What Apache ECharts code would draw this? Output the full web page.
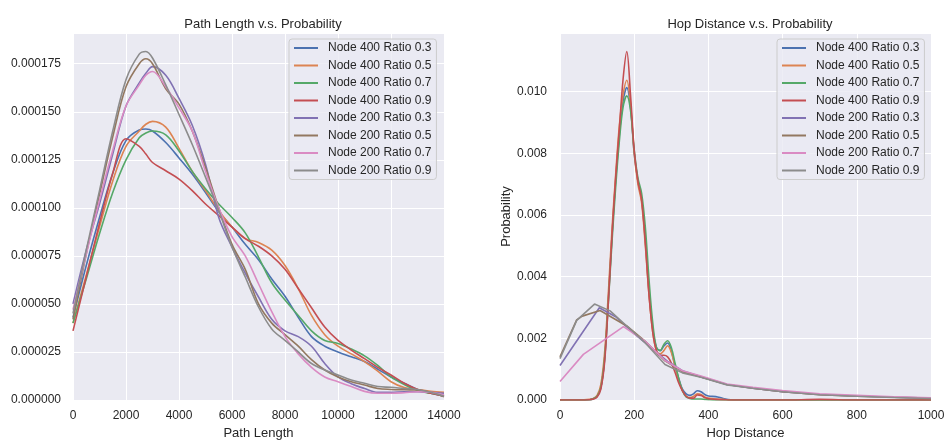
<!DOCTYPE html>
<html><head><meta charset="utf-8">
<script src="https://cdn.jsdelivr.net/npm/echarts@6/dist/echarts.min.js"></script>
<style>html,body{margin:0;padding:0;background:#fff}#c{width:946px;height:440px}</style>
</head><body><div id="c"></div>
<script>
const seriesNames = ['Node 400 Ratio 0.3','Node 400 Ratio 0.5','Node 400 Ratio 0.7','Node 400 Ratio 0.9','Node 200 Ratio 0.3','Node 200 Ratio 0.5','Node 200 Ratio 0.7','Node 200 Ratio 0.9'];
const colors = ['#4C72B0','#DD8452','#55A868','#C44E52','#8172B3','#937860','#DA8BC3','#8C8C8C'];

// Left: path length (x) vs density, values in units of 1e-6
const pathX = [0,500,1000,1500,2000,2500,2750,3000,3500,4000,4500,5000,5500,6000,6500,7000,7500,8000,8500,9000,9500,10000,10500,11000,11500,12000,12500,13000,13500,14000];
const pathN400R03 = [43,70,95,118,135,140.5,141,140,134,126,117.6,108,98,90,81,73,63,54,43,33,28,25,22.5,20,16,12,8.7,5.5,3.5,2];
const pathN400R05 = [40,65,90,114,132,140,143.5,145,142,131,119,109,98.6,90,84,82,78,70,58,44,34,28,24,20,15,9.5,6.5,5.5,4.5,4];
const pathN400R07 = [40,63,86.5,108,125,136.5,139,140,138,129.6,119,110,102,95,87,74.4,61,52,44,36,31,29.4,26.5,23,18,12,8,5,3.5,2.5];
const pathN400R09 = [36,64,92,118,136,132,128,123.6,119.3,115,109,102,96,90,84,80,75,68,58,48,38,31,26,21.5,17,13,8.7,5.5,3.5,2];
const pathN200R03 = [50,78,102,128,153,165,170,173.5,169,157,143,122.7,95,79.6,66,53.6,42,36,33,28,19,12,8.5,6,4,4,4.3,4.3,4,3.5];
const pathN200R05 = [42,76,107,137,163,175,177.6,175,162,154,140,121,100,81,68,50,40,34,28,21,15.6,12,9.5,7.8,6,5.5,5.3,5.2,4,1.7];
const pathN200R07 = [47,76,104,130,153,164,169,171,163,152,140,119,100,85,75,60.5,46,33,24,17,12,9.5,7,4.5,3.5,3.5,3.8,4.3,4,2.6];
const pathN200R09 = [45,78,109,140,166.7,180,181.4,178,164,148.6,133,116,98.6,79.6,64,48.4,37,31,25,19,15.6,13,10.4,8.7,7,6.6,6,5.5,4,2];
const pathScale = 1e-6;

// Right: hop distance vs density, values in units of 1e-3
const hopX400 = [0,50,80,90,100,110,120,130,140,150,160,170,180,190,200,210,220,230,240,250,260,270,280,290,300,310,320,330,340,350,360,370,380,390,400,420,440,460,500,600,700,800,900,1000];
const hopN400R03 = [0,0,0.01,0.04,0.12,0.4,1.3,3.2,5.3,7.1,8.6,9.7,10.13,9.5,8.0,7.1,6.5,5.2,3.5,2.3,1.7,1.6,1.75,1.85,1.6,1.1,0.7,0.35,0.2,0.15,0.2,0.3,0.27,0.18,0.13,0.11,0.05,0.01,0,0,0,0,0,0];
const hopN400R05 = [0,0,0.02,0.05,0.15,0.5,1.5,3.4,5.5,7.3,8.9,9.9,10.37,9.6,8.0,7.0,6.4,5.0,3.4,2.2,1.6,1.5,1.6,1.76,1.55,1.1,0.65,0.3,0.12,0.08,0.12,0.2,0.18,0.1,0.06,0.03,0.02,0,0,0,0,0,0,0];
const hopN400R07 = [0,0,0.01,0.04,0.12,0.4,1.3,3.1,5.1,6.9,8.4,9.5,9.86,9.4,8.1,7.2,6.7,5.6,3.9,2.5,1.7,1.6,1.8,1.92,1.7,1.2,0.7,0.3,0.1,0.05,0.03,0.03,0.03,0.02,0.01,0,0,0,0,0,0,0,0,0];
const hopN400R09 = [0,0,0.01,0.03,0.1,0.35,1.2,3.1,5.3,7.2,8.8,10.4,11.3,9.9,8.1,7.1,6.5,5.1,3.4,2.2,1.6,1.45,1.45,1.4,1.2,0.9,0.55,0.3,0.12,0.06,0.06,0.16,0.15,0.08,0.04,0.02,0.01,0,0,0,0.02,0,0,0];
const hopXN200R03 = [0,106,150,200,250,290,330,380,450,520,600,700,800,900,1000];
const hopN200R03 = [1.12,2.99,2.7,2.15,1.65,1.25,0.95,0.75,0.5,0.38,0.27,0.18,0.13,0.09,0.06];
const hopXN200R05 = [0,45,60,108,180,230,283,330,380,450,520,600,700,800,900,1000];
const hopN200R05 = [1.4,2.6,2.72,2.9,2.4,1.9,1.27,0.92,0.75,0.5,0.38,0.27,0.17,0.12,0.09,0.06];
const hopXN200R07 = [0,63,171,230,283,330,380,450,520,600,700,800,900,1000];
const hopN200R07 = [0.6,1.48,2.38,1.9,1.28,0.95,0.78,0.52,0.41,0.31,0.2,0.15,0.1,0.07];
const hopXN200R09 = [0,45,93,135,180,230,283,330,380,450,520,600,700,800,900,1000];
const hopN200R09 = [1.34,2.58,3.11,2.89,2.4,1.85,1.15,0.88,0.74,0.49,0.38,0.27,0.17,0.12,0.08,0.05];
const hopScale = 1e-3;

const leftTicksInterval = 0.000025, leftMax = 0.000191;
const rightTicksInterval = 0.002, rightMax = 0.0119;

const pathSets = [pathN400R03,pathN400R05,pathN400R07,pathN400R09,pathN200R03,pathN200R05,pathN200R07,pathN200R09];
const hopSets = [[hopX400,hopN400R03],[hopX400,hopN400R05],[hopX400,hopN400R07],[hopX400,hopN400R09],[hopXN200R03,hopN200R03],[hopXN200R05,hopN200R05],[hopXN200R07,hopN200R07],[hopXN200R09,hopN200R09]];

const FONT = '"Liberation Sans", Arial, sans-serif';
const TXT = '#262626';

const series = [];
pathSets.forEach((ys, i) => {
  series.push({
    name: seriesNames[i], type: 'line', xAxisIndex: 0, yAxisIndex: 0,
    data: pathX.map((x, k) => [x, ys[k] * pathScale]),
    symbol: 'none', smooth: 0.35, color: colors[i],
    lineStyle: { width: 1.6, color: colors[i] }, z: 2 + i
  });
});
hopSets.forEach((pair, i) => {
  const xs = pair[0], ys = pair[1];
  series.push({
    name: seriesNames[i], type: 'line', xAxisIndex: 1, yAxisIndex: 1,
    data: xs.map((x, k) => [x, ys[k] * hopScale]),
    symbol: 'none', smooth: i < 4 ? 0.35 : false, color: colors[i],
    lineStyle: { width: 1.6, color: colors[i] }, z: 2 + i
  });
});

function legendAt(left) {
  return {
    orient: 'vertical', left: left, top: 39,
    data: seriesNames.map((n, i) => ({ name: n, icon: 'rect', itemStyle: { color: colors[i] } })),
    itemWidth: 24, itemHeight: 2, itemGap: 5.5,
    padding: [3, 5, 3, 5],
    backgroundColor: 'rgba(234,234,242,0.8)', borderColor: '#cccccc', borderWidth: 1, borderRadius: 3,
    textStyle: { fontFamily: FONT, fontSize: 12, color: TXT, padding: [0, 0, 0, 5] },
    selectedMode: false
  };
}

const splitLine = { show: true, lineStyle: { color: '#ffffff', width: 1 } };
const plainNum = v => String(v);

const option = {
  animation: false,
  backgroundColor: '#ffffff',
  title: [
    { text: 'Path Length v.s. Probability', left: 258, top: 13, textAlign: 'center',
      textStyle: { fontFamily: FONT, fontSize: 13, fontWeight: 'normal', color: TXT } },
    { text: 'Hop Distance v.s. Probability', left: 745, top: 13, textAlign: 'center',
      textStyle: { fontFamily: FONT, fontSize: 13, fontWeight: 'normal', color: TXT } }
  ],
  legend: [legendAt(289), legendAt(777)],
  grid: [
    { left: 73, right: 502, top: 33, bottom: 40, show: true, backgroundColor: '#EAEAF2', borderWidth: 0, containLabel: false, outerBoundsMode: 'none' },
    { left: 560, right: 15, top: 33, bottom: 40, show: true, backgroundColor: '#EAEAF2', borderWidth: 0, containLabel: false, outerBoundsMode: 'none' }
  ],
  xAxis: [
    { type: 'value', gridIndex: 0, min: 0, max: 14000, interval: 2000,
      name: 'Path Length', nameLocation: 'middle', nameGap: 24,
      nameTextStyle: { fontFamily: FONT, fontSize: 13, color: TXT },
      axisLine: { show: false }, axisTick: { show: false }, splitLine: splitLine,
      axisLabel: { fontFamily: FONT, fontSize: 12, color: TXT, margin: 10, formatter: plainNum } },
    { type: 'value', gridIndex: 1, min: 0, max: 1000, interval: 200,
      name: 'Hop Distance', nameLocation: 'middle', nameGap: 24,
      nameTextStyle: { fontFamily: FONT, fontSize: 13, color: TXT },
      axisLine: { show: false }, axisTick: { show: false }, splitLine: splitLine,
      axisLabel: { fontFamily: FONT, fontSize: 12, color: TXT, margin: 10, formatter: plainNum } }
  ],
  yAxis: [
    { type: 'value', gridIndex: 0, min: 0, max: leftMax, interval: leftTicksInterval,
      axisLine: { show: false }, axisTick: { show: false }, splitLine: splitLine,
      axisLabel: { fontFamily: FONT, fontSize: 12, color: TXT, margin: 12, showMaxLabel: false,
        formatter: v => v.toFixed(6) } },
    { type: 'value', gridIndex: 1, min: 0, max: rightMax, interval: rightTicksInterval,
      name: 'Probability', nameLocation: 'middle', nameGap: 46,
      nameTextStyle: { fontFamily: FONT, fontSize: 13, color: TXT },
      axisLine: { show: false }, axisTick: { show: false }, splitLine: splitLine,
      axisLabel: { fontFamily: FONT, fontSize: 12, color: TXT, margin: 13, showMaxLabel: false,
        formatter: v => v.toFixed(3) } }
  ],
  series: series
};
const chart = echarts.init(document.getElementById('c'), null, { renderer: 'canvas' });
chart.setOption(option);
</script></body></html>
